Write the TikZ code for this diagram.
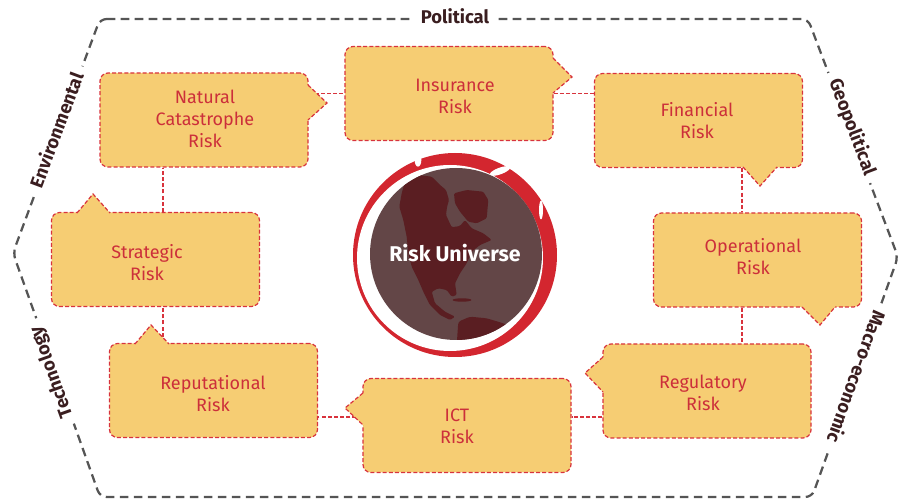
\documentclass[tikz,border=0pt]{standalone}
\usepackage{fontspec}
\setmainfont{Fira Sans}
\usetikzlibrary{calc}
\definecolor{boxfill}{HTML}{F6CD73}
\definecolor{boxline}{HTML}{D8333D}
\definecolor{boxtext}{HTML}{CC2F3A}
\definecolor{hexgray}{HTML}{555555}
\definecolor{labeltext}{HTML}{3A1E20}
\definecolor{globered}{HTML}{D3262F}
\definecolor{globedark}{HTML}{634647}
\definecolor{landdark}{HTML}{5A1E22}
\begin{document}
\begin{tikzpicture}[x=0.75pt,y=-0.75pt,
  riskbox/.style={draw=boxline, fill=boxfill, line width=0.9pt,
    dash pattern=on 3pt off 1.6pt, rounded corners=6pt,
    minimum width=156pt, minimum height=70.5pt, inner sep=0pt},
  ptrline/.style={draw=boxline, line width=0.9pt, dash pattern=on 3pt off 1.6pt},
  risktext/.style={text=boxtext, font=\fontsize{13.5}{16.5}\selectfont, align=center, inner sep=0pt},
  link/.style={draw=boxline, line width=0.9pt, dash pattern=on 3pt off 1.6pt},
  hexline/.style={draw=hexgray, line width=1.7pt, dash pattern=on 6.5pt off 4pt, rounded corners=5pt},
  hexlabel/.style={font=\fontsize{13.8}{15}\selectfont\bfseries, text=labeltext, fill=white,
    inner xsep=6pt, inner ysep=1pt},
  globetext/.style={font=\fontsize{16}{18}\selectfont\bfseries, text=white}
]
\useasboundingbox (0,0) rectangle (904,502);

% outer hexagon of external drivers
\draw[hexline] (100,19) -- (808,19) -- (898,257) -- (812,497) -- (100,497) -- (13,253) -- cycle;
\node[hexlabel] (political) at (455,16) {Political};
\node[hexlabel, rotate=-69.3] (geopolitical) at (852,127) {Geopolitical};
\node[hexlabel, rotate=-109.7] (macro) at (857,377) {Macro-economic};
\node[hexlabel, rotate=109.6] (technology) at (52,372) {Technology};
\node[hexlabel, rotate=69.6] (environmental) at (56,130) {Environmental};

% risk boxes
\node[riskbox] (nat) at (204,120) {};
\node[riskbox] (ins) at (449,93.5) {};
\node[riskbox] (fin) at (698.5,120.5) {};
\node[riskbox] (ope) at (757.5,260) {};
\node[riskbox] (reg) at (707,391) {};
\node[riskbox] (ict) at (467,425.5) {};
\node[riskbox] (rep) at (213.5,390.5) {};
\node[riskbox] (str) at (155.5,259.5) {};

% connectors around the ring
\draw[link] (nat.east |- ins.west) -- (ins.west);
\draw[link] (ins.east) -- (fin.west |- ins.east);
\draw[link] (fin.south -| 742,0) -- (ope.north -| 742,0);
\draw[link] (ope.south -| 742,0) -- (reg.north -| 742,0);
\draw[link] (reg.west |- 0,417) -- (ict.east |- 0,417);
\draw[link] (ict.west |- 0,417) -- (rep.east |- 0,417);
\draw[link] (rep.north -| 163,0) -- (str.south -| 163,0);
\draw[link] (str.north -| 163,0) -- (nat.south -| 163,0);

% speech-bubble pointers
% Natural Catastrophe: right
\fill[boxfill] (306,85) -- (308,85) -- (327,103) -- (308,120) -- (306,120) -- cycle;
\draw[ptrline] (308,85) -- (327,103) -- (308,120);
% Insurance: right
\fill[boxfill] (551,58) -- (553,58) -- (572,77) -- (553,93) -- (551,93) -- cycle;
\draw[ptrline] (553,58) -- (572,77) -- (553,93);
% Financial: down
\fill[boxfill] (743,165) -- (743,167) -- (760,186) -- (777,167) -- (777,165) -- cycle;
\draw[ptrline] (743,167) -- (760,186) -- (777,167);
% Operational: down
\fill[boxfill] (802,305) -- (802,307) -- (820,325) -- (835,307) -- (835,305) -- cycle;
\draw[ptrline] (802,307) -- (820,325) -- (835,307);
% Regulatory: left
\fill[boxfill] (605,357) -- (603,357) -- (585,373) -- (603,392) -- (605,392) -- cycle;
\draw[ptrline] (603,357) -- (585,373) -- (603,392);
% ICT: left
\fill[boxfill] (365,393) -- (363,393) -- (345,408) -- (363,425) -- (365,425) -- cycle;
\draw[ptrline] (363,393) -- (345,408) -- (363,425);
% Reputational: up
\fill[boxfill] (135,346) -- (135,344) -- (151,325) -- (169,344) -- (169,346) -- cycle;
\draw[ptrline] (135,344) -- (151,325) -- (169,344);
% Strategic: up
\fill[boxfill] (77,215) -- (77,213) -- (93,194) -- (110,213) -- (110,215) -- cycle;
\draw[ptrline] (77,213) -- (93,194) -- (110,213);

% box texts
\node[risktext] (nat-t) at (205,119) {Natural\\Catastrophe\\Risk};
\node[risktext] (ins-t) at (455,96) {Insurance\\Risk};
\node[risktext] (fin-t) at (697,121) {Financial\\Risk};
\node[risktext] (ope-t) at (753,257) {Operational\\Risk};
\node[risktext] (reg-t) at (703,392.5) {Regulatory\\Risk};
\node[risktext] (ict-t) at (457,426) {ICT\\Risk};
\node[risktext] (rep-t) at (213,394) {Reputational\\Risk};
\node[risktext] (str-t) at (147,262.5) {Strategic\\Risk};

% globe in the centre
\coordinate (globe) at (455,255);
\fill[globered] (globe) circle[radius=76.5pt];
\fill[white] (450,258) circle[radius=69.75pt];
\fill[white] (418,160) ellipse[x radius=2.5pt, y radius=5pt];
\fill[white, rotate around={20:(500,171)}] (500,171) ellipse[x radius=8pt, y radius=2.5pt];
\fill[white] (541,210) ellipse[x radius=1.5pt, y radius=7pt];
\fill[globedark] (456,254) circle[radius=64.5pt];
\begin{scope}
  \clip (456,254) circle[radius=64.5pt];
  % North America
  \fill[landdark, rounded corners=1pt] (405,181.7) -- (418.3,175) -- (431.7,176.7) -- (440,185)
    -- (446,190) -- (449,200) -- (447,207) -- (446,215) -- (451.7,227.3) -- (460,226)
    -- (465,220) -- (471.7,228.3) -- (483.3,233.3) -- (491.7,240) -- (480,245)
    -- (471.7,251.7) -- (466.7,263.3) -- (460,273.3) -- (455,283.3) -- (456.7,295)
    -- (451.7,296.7) -- (446.7,290) -- (438.3,288.3) -- (431.7,291.7) -- (435,303.3)
    -- (445,311.7) -- (455,316.7) -- (450,320) -- (440,315) -- (430,305)
    -- (423.3,291.7) -- (418.3,280) -- (411.7,266.7) -- (408.3,253.3) -- (406.7,236.7)
    -- (403.3,220) -- (399.3,206.7) -- (401.7,193.3) -- cycle;
  % Greenland
  \fill[landdark, rounded corners=1pt] (454,193.3) -- (466.7,190) -- (483.3,191.7) -- (488.3,200)
    -- (486.7,218.3) -- (476.7,223.3) -- (468.3,221.7) -- (460,211.7) -- (455,203.3) -- cycle;
  % Caribbean
  \fill[landdark] (462,300) ellipse[x radius=7pt, y radius=1.3pt];
  % South America
  \fill[landdark, rounded corners=2pt] (458.3,321.7) -- (470,316.7) -- (486.7,318.3) -- (503.3,323.3)
    -- (516.7,328.3) -- (513.3,345) -- (456.7,345) -- cycle;
\end{scope}
\node[globetext] (universe) at (455,253) {Risk Universe};
\end{tikzpicture}
\end{document}
